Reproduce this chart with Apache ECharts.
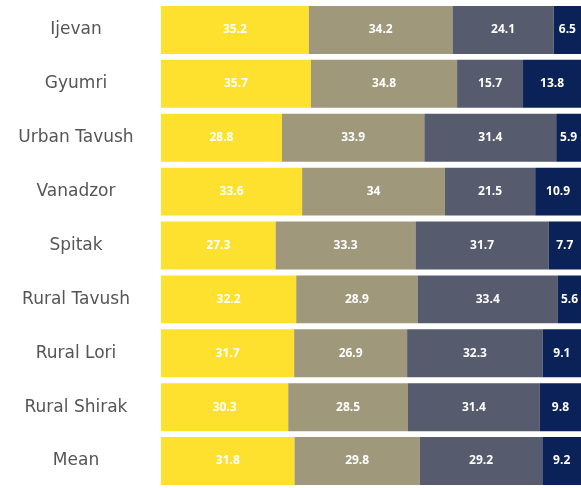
<!DOCTYPE html>
<html>
<head>
<meta charset="utf-8">
<script src="https://cdn.jsdelivr.net/npm/echarts@6/dist/echarts.min.js"></script>
<style>
  html, body { margin: 0; padding: 0; background: #ffffff; }
  #chart { width: 581px; height: 488px; }
</style>
</head>
<body>
<div id="chart"></div>
<script>
// Share of responses by location (percent), four answer groups per row
const categories = ['Ijevan', 'Gyumri', 'Urban Tavush', 'Vanadzor', 'Spitak', 'Rural Tavush', 'Rural Lori', 'Rural Shirak', 'Mean'];
const group1 = [35.2, 35.7, 28.8, 33.6, 27.3, 32.2, 31.7, 30.3, 31.8];
const group2 = [34.2, 34.8, 33.9, 34, 33.3, 28.9, 26.9, 28.5, 29.8];
const group3 = [24.1, 15.7, 31.4, 21.5, 31.7, 33.4, 32.3, 31.4, 29.2];
const group4 = [6.5, 13.8, 5.9, 10.9, 7.7, 5.6, 9.1, 9.8, 9.2];

const colors = ['#FDE12E', '#A0987A', '#565B6E', '#0B2258'];
const groups = [group1, group2, group3, group4];

const chart = echarts.init(document.getElementById('chart'), null, { renderer: 'canvas' });

chart.setOption({
  animation: false,
  grid: { left: 161, width: 425, top: 3, bottom: -3, containLabel: false },
  xAxis: {
    type: 'value', min: 0, max: 100,
    show: false
  },
  yAxis: {
    type: 'category',
    data: categories,
    inverse: true,
    axisLine: { show: false },
    axisTick: { show: false },
    axisLabel: {
      align: 'center',
      margin: 85,
      fontFamily: 'DejaVu Sans',
      fontSize: 17,
      color: '#555555'
    }
  },
  series: groups.map((vals, i) => ({
    type: 'bar',
    stack: 'total',
    data: vals,
    barCategoryGap: '11%',
    itemStyle: { color: colors[i] },
    label: {
      show: true,
      position: 'inside',
      color: '#ffffff',
      fontFamily: 'Open Sans',
      fontWeight: 'bold',
      fontSize: 12
    }
  }))
});
</script>
</body>
</html>
